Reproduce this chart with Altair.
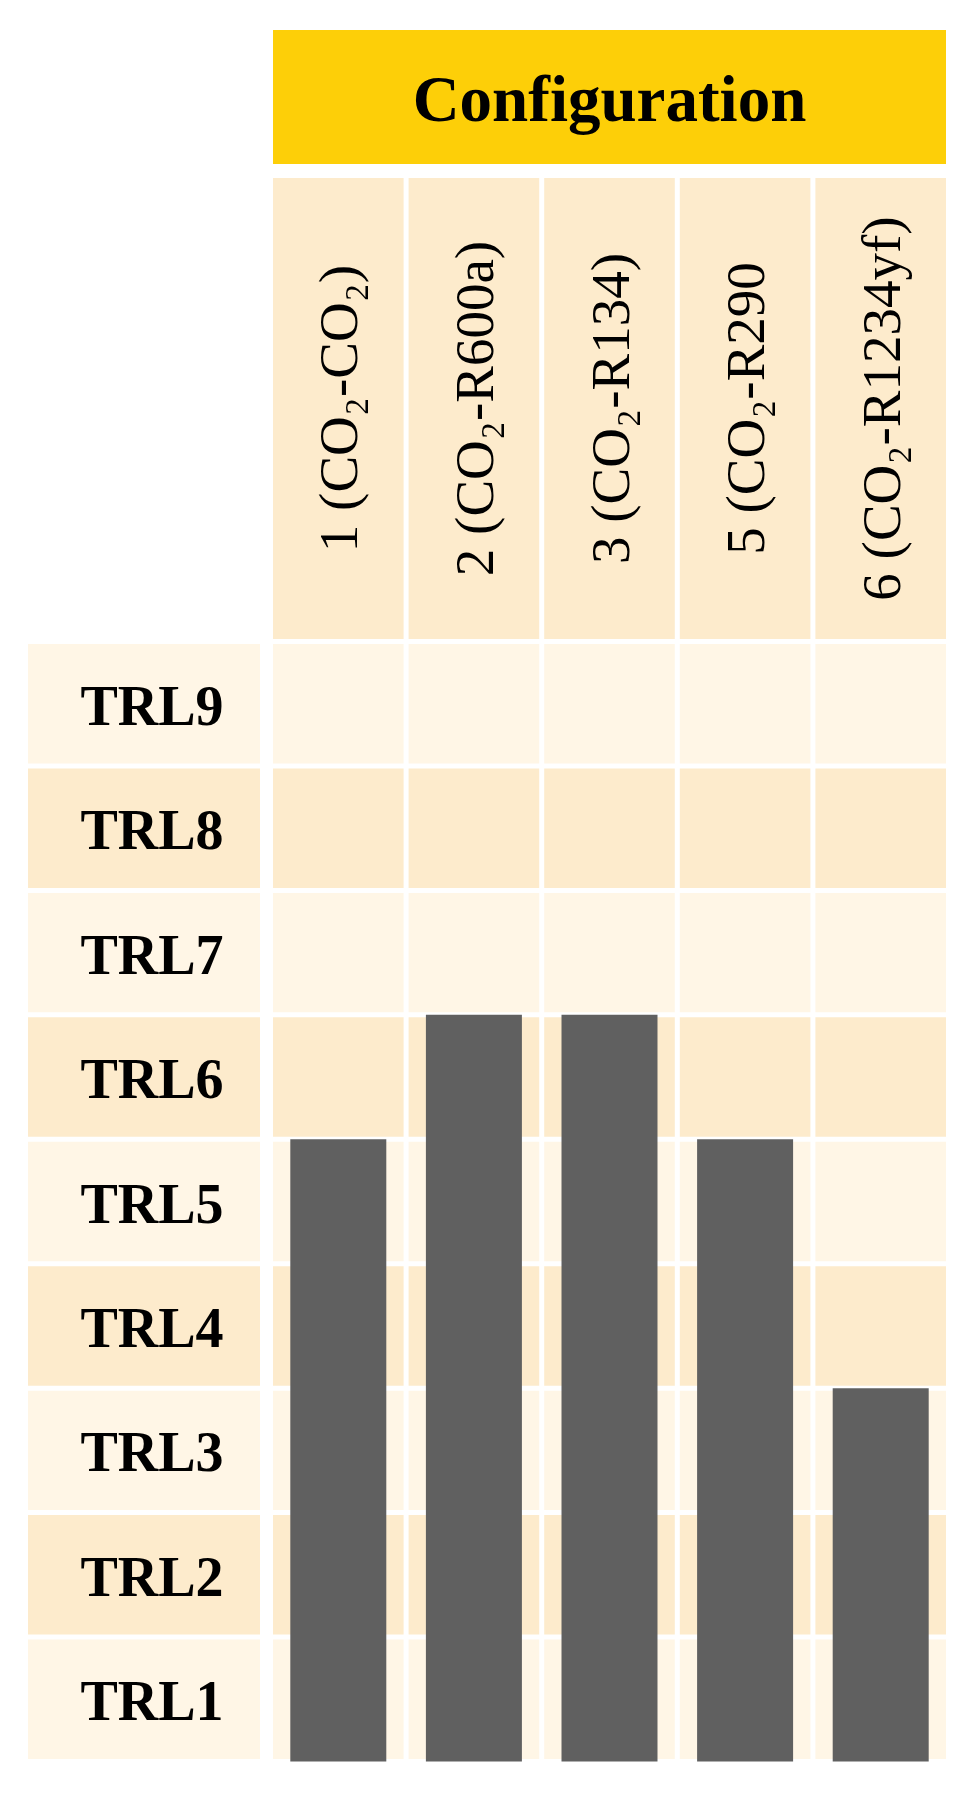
import altair as alt
import pandas as pd

# ---- data ----
configs = ["1 (CO₂-CO₂)", "2 (CO₂-R600a)", "3 (CO₂-R134)", "5 (CO₂-R290", "6 (CO₂-R1234yf)"]
trl_values = [5, 6, 6, 5, 3]
trl_levels = [1, 2, 3, 4, 5, 6, 7, 8, 9]
trl_labels = ["TRL1", "TRL2", "TRL3", "TRL4", "TRL5", "TRL6", "TRL7", "TRL8", "TRL9"]
header_title = "Configuration"

# ---- styles ----
FONT = "Liberation Serif"
YELLOW = "#FDCF08"
LIGHT = "#FFF6E6"
DARK = "#FDEBCC"
BAR = "#606060"

GRID_W = 673
LAB_W = 232
ROWS_H = 1120
HDR_H = 461
TITLE_H = 134
GAP = 5.0

px = GAP / ((GRID_W + GAP) / len(configs))
py = GAP / (ROWS_H / len(trl_levels))

levels_df = pd.DataFrame({"level": trl_levels, "label": trl_labels})
levels_df["shade"] = ["even" if l % 2 == 0 else "odd" for l in trl_levels]
levels_df["col"] = "TRL"
grid_df = pd.DataFrame(
    [{"config": c, "label": t, "shade": ("even" if l % 2 == 0 else "odd")}
     for c in configs for l, t in zip(trl_levels, trl_labels)]
)
bars_df = pd.DataFrame({"config": configs, "trl": trl_values})
hdr_df = pd.DataFrame({"config": configs, "row": ["hdr"] * len(configs)})
title_df = pd.DataFrame({"title": [header_title]})

shade = alt.Color("shade:N", scale=alt.Scale(domain=["odd", "even"], range=[LIGHT, DARK]), legend=None)
xcfg = alt.Scale(domain=configs, paddingInner=px, paddingOuter=0)
yrow = alt.Scale(domain=trl_labels[::-1], paddingInner=py, paddingOuter=py / 2)
yval = alt.Scale(domain=[0, 9], nice=False, zero=True)
band0 = alt.Scale(paddingInner=0, paddingOuter=0)

# ---- title (yellow) ----
title_rect = alt.Chart(title_df).mark_rect(color=YELLOW).encode(
    x=alt.X("title:N", axis=None, scale=band0),
    y=alt.Y("title:N", axis=None, scale=band0),
)
title_text = alt.Chart(title_df).mark_text(
    font=FONT, fontSize=65, fontWeight="bold", color="black", baseline="middle", align="center", dy=4
).encode(
    x=alt.X("title:N", axis=None, scale=band0),
    y=alt.Y("title:N", axis=None, scale=band0),
    text="title:N",
)
title_chart = alt.layer(title_rect, title_text).properties(width=GRID_W, height=TITLE_H)

# ---- column headers ----
hdr_rect = alt.Chart(hdr_df).mark_rect(color=DARK).encode(
    x=alt.X("config:N", axis=None, scale=xcfg),
    y=alt.Y("row:N", axis=None, scale=band0),
)
hdr_text = alt.Chart(hdr_df).mark_text(
    font=FONT, fontSize=55, color="black", angle=270, baseline="middle", align="center", dy=2
).encode(
    x=alt.X("config:N", axis=None, scale=xcfg),
    y=alt.Y("row:N", axis=None, scale=band0),
    text="config:N",
)
hdr_chart = alt.layer(hdr_rect, hdr_text).properties(width=GRID_W, height=HDR_H)

# ---- grid + bars ----
cells = alt.Chart(grid_df).mark_rect().encode(
    x=alt.X("config:N", axis=None, scale=xcfg),
    y=alt.Y("label:N", axis=None, scale=yrow),
    color=shade,
)
bars = alt.Chart(bars_df).mark_bar(color=BAR, width=alt.RelativeBandSize(0.735)).encode(
    x=alt.X("config:N", axis=None, scale=xcfg),
    y=alt.Y("trl:Q", axis=None, scale=yval),
)
grid_chart = alt.layer(cells, bars).resolve_scale(y="independent").properties(width=GRID_W, height=ROWS_H)

# ---- row labels ----
lab_cells = alt.Chart(levels_df).mark_rect().encode(
    x=alt.X("col:N", axis=None, scale=band0),
    y=alt.Y("label:N", axis=None, scale=yrow),
    color=shade,
)
lab_text = alt.Chart(levels_df).mark_text(
    font=FONT, fontSize=56, fontWeight="bold", color="black", baseline="middle", align="center", dx=8, dy=4
).encode(
    x=alt.X("col:N", axis=None, scale=band0),
    y=alt.Y("label:N", axis=None, scale=yrow),
    text="label:N",
)
lab_chart = alt.layer(lab_cells, lab_text).properties(width=LAB_W, height=ROWS_H)

# ---- blanks ----
def blank(h):
    return alt.Chart(pd.DataFrame({"a": ["blank"]})).mark_rect(opacity=0).encode(
        x=alt.X("a:N", axis=None, scale=band0)
    ).properties(width=LAB_W, height=h)

row_a = alt.hconcat(blank(TITLE_H), title_chart, spacing=13)
row_b = alt.hconcat(blank(HDR_H), hdr_chart, spacing=13)
row_c = alt.hconcat(lab_chart, grid_chart, spacing=13)

chart = alt.vconcat(
    row_a, alt.vconcat(row_b, row_c, spacing=2.5), spacing=14
).properties(
    padding={"left": 20, "top": 22, "right": 5, "bottom": 5}
).configure_view(strokeWidth=0)

chart.save("out.html", embed_options={"renderer": "svg", "actions": False})
